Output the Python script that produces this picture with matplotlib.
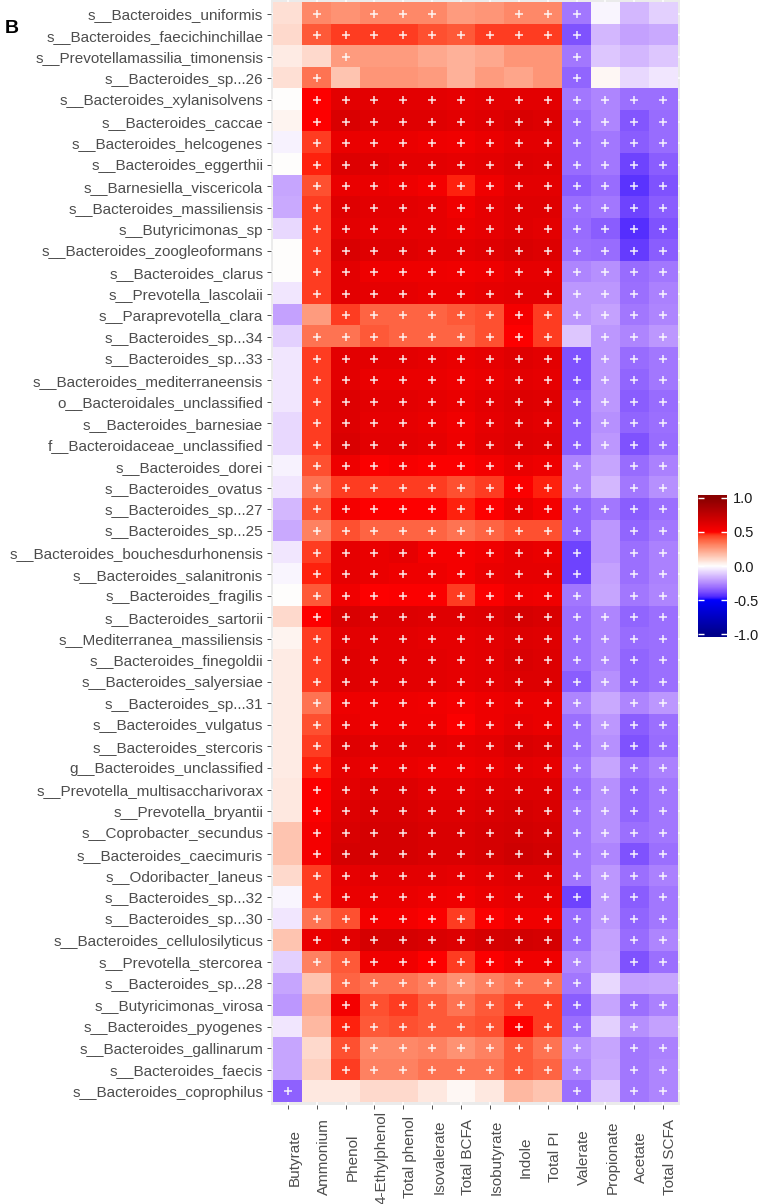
import numpy as np
import matplotlib
matplotlib.use('Agg')
import matplotlib.pyplot as plt
from matplotlib.colors import ListedColormap, to_rgb

plt.rcParams['font.family'] = ['Liberation Sans', 'DejaVu Sans']

taxa = ['s__Bacteroides_uniformis', 's__Bacteroides_faecichinchillae', 's__Prevotellamassilia_timonensis',
        's__Bacteroides_sp...26', 's__Bacteroides_xylanisolvens', 's__Bacteroides_caccae',
        's__Bacteroides_helcogenes', 's__Bacteroides_eggerthii', 's__Barnesiella_viscericola',
        's__Bacteroides_massiliensis', 's__Butyricimonas_sp', 's__Bacteroides_zoogleoformans',
        's__Bacteroides_clarus', 's__Prevotella_lascolaii', 's__Paraprevotella_clara',
        's__Bacteroides_sp...34', 's__Bacteroides_sp...33', 's__Bacteroides_mediterraneensis',
        'o__Bacteroidales_unclassified', 's__Bacteroides_barnesiae', 'f__Bacteroidaceae_unclassified',
        's__Bacteroides_dorei', 's__Bacteroides_ovatus', 's__Bacteroides_sp...27',
        's__Bacteroides_sp...25', 's__Bacteroides_bouchesdurhonensis', 's__Bacteroides_salanitronis',
        's__Bacteroides_fragilis', 's__Bacteroides_sartorii', 's__Mediterranea_massiliensis',
        's__Bacteroides_finegoldii', 's__Bacteroides_salyersiae', 's__Bacteroides_sp...31',
        's__Bacteroides_vulgatus', 's__Bacteroides_stercoris', 'g__Bacteroides_unclassified',
        's__Prevotella_multisaccharivorax', 's__Prevotella_bryantii', 's__Coprobacter_secundus',
        's__Bacteroides_caecimuris', 's__Odoribacter_laneus', 's__Bacteroides_sp...32',
        's__Bacteroides_sp...30', 's__Bacteroides_cellulosilyticus', 's__Prevotella_stercorea',
        's__Bacteroides_sp...28', 's__Butyricimonas_virosa', 's__Bacteroides_pyogenes',
        's__Bacteroides_gallinarum', 's__Bacteroides_faecis', 's__Bacteroides_coprophilus']

metabolites = ['Butyrate', 'Ammonium', 'Phenol', '4-Ethylphenol', 'Total phenol', 'Isovalerate',
               'Total BCFA', 'Isobutyrate', 'Indole', 'Total PI', 'Valerate', 'Propionate',
               'Acetate', 'Total SCFA']

# correlation per metabolite, rows in the order of taxa
butyrate = [0.08, 0.10, 0.05, 0.08, 0.00, 0.03, -0.03, 0.00, -0.19, -0.18,
            -0.08, 0.00, 0.00, -0.05, -0.20, -0.10, -0.05, -0.05, -0.05, -0.08,
            -0.08, -0.03, -0.05, -0.15, -0.18, -0.05, -0.02, 0.00, 0.10, 0.03,
            0.05, 0.05, 0.05, 0.05, 0.05, 0.05, 0.06, 0.06, 0.15, 0.15,
            0.10, -0.02, -0.05, 0.15, -0.10, -0.19, -0.22, -0.05, -0.19, -0.19,
            -0.34]
ammonium = [0.30, 0.40, 0.10, 0.35, 0.50, 0.50, 0.45, 0.48, 0.42, 0.45,
            0.45, 0.45, 0.45, 0.45, 0.25, 0.35, 0.45, 0.45, 0.45, 0.45,
            0.45, 0.42, 0.35, 0.42, 0.32, 0.45, 0.48, 0.40, 0.50, 0.45,
            0.45, 0.45, 0.35, 0.42, 0.45, 0.48, 0.51, 0.51, 0.54, 0.54,
            0.45, 0.45, 0.35, 0.58, 0.32, 0.15, 0.22, 0.18, 0.10, 0.12,
            0.06]
phenol = [0.28, 0.45, 0.25, 0.15, 0.61, 0.65, 0.58, 0.64, 0.58, 0.63,
          0.61, 0.65, 0.61, 0.61, 0.45, 0.35, 0.61, 0.61, 0.64, 0.64,
          0.65, 0.57, 0.45, 0.54, 0.42, 0.60, 0.60, 0.56, 0.65, 0.61,
          0.63, 0.63, 0.57, 0.58, 0.63, 0.60, 0.61, 0.64, 0.65, 0.67,
          0.60, 0.58, 0.42, 0.61, 0.40, 0.38, 0.54, 0.48, 0.42, 0.45,
          0.06]
ethylphenol = [0.30, 0.45, 0.25, 0.27, 0.61, 0.63, 0.58, 0.63, 0.58, 0.61,
               0.60, 0.63, 0.57, 0.60, 0.38, 0.40, 0.61, 0.58, 0.61, 0.60,
               0.61, 0.51, 0.45, 0.50, 0.38, 0.58, 0.58, 0.50, 0.64, 0.61,
               0.61, 0.61, 0.57, 0.57, 0.61, 0.58, 0.64, 0.65, 0.67, 0.67,
               0.61, 0.58, 0.54, 0.67, 0.56, 0.35, 0.42, 0.40, 0.30, 0.32,
               0.10]
total_phenol = [0.30, 0.45, 0.25, 0.27, 0.61, 0.63, 0.58, 0.61, 0.57, 0.61,
                0.60, 0.63, 0.57, 0.60, 0.38, 0.38, 0.61, 0.58, 0.61, 0.60,
                0.61, 0.53, 0.45, 0.50, 0.38, 0.60, 0.57, 0.51, 0.64, 0.61,
                0.61, 0.61, 0.57, 0.57, 0.61, 0.58, 0.64, 0.65, 0.67, 0.67,
                0.61, 0.58, 0.54, 0.67, 0.56, 0.35, 0.45, 0.42, 0.30, 0.32,
                0.10]
isovalerate = [0.30, 0.42, 0.22, 0.25, 0.61, 0.63, 0.57, 0.61, 0.54, 0.60,
               0.60, 0.61, 0.57, 0.58, 0.38, 0.38, 0.60, 0.58, 0.60, 0.58,
               0.60, 0.51, 0.45, 0.50, 0.38, 0.54, 0.57, 0.51, 0.63, 0.60,
               0.61, 0.61, 0.56, 0.57, 0.61, 0.57, 0.61, 0.64, 0.65, 0.65,
               0.61, 0.57, 0.51, 0.65, 0.50, 0.32, 0.40, 0.40, 0.32, 0.35,
               0.06]
total_bcfa = [0.25, 0.40, 0.20, 0.20, 0.60, 0.61, 0.56, 0.60, 0.48, 0.56,
              0.58, 0.61, 0.56, 0.58, 0.40, 0.38, 0.58, 0.57, 0.58, 0.56,
              0.57, 0.51, 0.42, 0.48, 0.35, 0.54, 0.54, 0.45, 0.63, 0.60,
              0.60, 0.60, 0.54, 0.51, 0.60, 0.57, 0.61, 0.64, 0.65, 0.65,
              0.60, 0.56, 0.45, 0.64, 0.45, 0.28, 0.35, 0.40, 0.28, 0.35,
              0.02]
isobutyrate = [0.27, 0.45, 0.22, 0.25, 0.61, 0.63, 0.58, 0.61, 0.56, 0.60,
               0.60, 0.63, 0.57, 0.60, 0.42, 0.42, 0.60, 0.58, 0.61, 0.60,
               0.61, 0.54, 0.45, 0.50, 0.38, 0.56, 0.58, 0.51, 0.64, 0.61,
               0.61, 0.61, 0.57, 0.57, 0.61, 0.58, 0.63, 0.65, 0.67, 0.67,
               0.61, 0.58, 0.51, 0.67, 0.51, 0.32, 0.40, 0.42, 0.32, 0.35,
               0.06]
indole = [0.30, 0.45, 0.27, 0.23, 0.61, 0.65, 0.61, 0.64, 0.61, 0.63,
          0.63, 0.65, 0.60, 0.61, 0.54, 0.50, 0.63, 0.61, 0.64, 0.63,
          0.64, 0.58, 0.51, 0.58, 0.42, 0.60, 0.60, 0.57, 0.67, 0.64,
          0.65, 0.64, 0.58, 0.60, 0.65, 0.61, 0.64, 0.67, 0.68, 0.70,
          0.63, 0.60, 0.56, 0.68, 0.56, 0.35, 0.45, 0.50, 0.40, 0.40,
          0.18]
total_pi = [0.30, 0.45, 0.27, 0.27, 0.61, 0.64, 0.61, 0.63, 0.61, 0.63,
            0.61, 0.64, 0.60, 0.61, 0.45, 0.45, 0.61, 0.60, 0.63, 0.61,
            0.63, 0.57, 0.48, 0.54, 0.42, 0.58, 0.60, 0.56, 0.65, 0.63,
            0.64, 0.64, 0.58, 0.58, 0.64, 0.60, 0.64, 0.65, 0.67, 0.68,
            0.63, 0.60, 0.56, 0.67, 0.56, 0.35, 0.45, 0.45, 0.35, 0.38,
            0.15]
valerate = [-0.29, -0.37, -0.29, -0.33, -0.29, -0.32, -0.32, -0.32, -0.35, -0.31,
            -0.32, -0.31, -0.26, -0.22, -0.22, -0.12, -0.37, -0.37, -0.35, -0.35,
            -0.35, -0.26, -0.26, -0.33, -0.33, -0.40, -0.40, -0.29, -0.31, -0.31,
            -0.31, -0.35, -0.26, -0.31, -0.31, -0.29, -0.31, -0.29, -0.29, -0.29,
            -0.29, -0.40, -0.32, -0.32, -0.26, -0.29, -0.35, -0.31, -0.24, -0.26,
            -0.31]
propionate = [-0.02, -0.15, -0.12, 0.02, -0.26, -0.26, -0.29, -0.29, -0.32, -0.29,
              -0.35, -0.32, -0.24, -0.22, -0.20, -0.22, -0.22, -0.22, -0.22, -0.24,
              -0.22, -0.19, -0.15, -0.29, -0.22, -0.22, -0.20, -0.19, -0.26, -0.26,
              -0.26, -0.24, -0.18, -0.22, -0.24, -0.19, -0.24, -0.24, -0.24, -0.26,
              -0.22, -0.22, -0.22, -0.20, -0.19, -0.08, -0.19, -0.10, -0.19, -0.18,
              -0.12]
acetate = [-0.15, -0.20, -0.15, -0.08, -0.31, -0.36, -0.35, -0.40, -0.43, -0.40,
           -0.44, -0.42, -0.32, -0.31, -0.29, -0.26, -0.32, -0.33, -0.35, -0.33,
           -0.37, -0.32, -0.29, -0.35, -0.33, -0.31, -0.31, -0.29, -0.33, -0.32,
           -0.33, -0.33, -0.26, -0.35, -0.37, -0.31, -0.33, -0.33, -0.31, -0.37,
           -0.31, -0.35, -0.33, -0.32, -0.37, -0.20, -0.31, -0.24, -0.29, -0.29,
           -0.29]
total_scfa = [-0.10, -0.18, -0.12, -0.05, -0.31, -0.32, -0.32, -0.35, -0.37, -0.35,
              -0.37, -0.35, -0.29, -0.27, -0.26, -0.22, -0.29, -0.29, -0.32, -0.31,
              -0.32, -0.27, -0.24, -0.31, -0.29, -0.27, -0.27, -0.26, -0.31, -0.31,
              -0.31, -0.31, -0.22, -0.31, -0.32, -0.27, -0.29, -0.29, -0.29, -0.31,
              -0.27, -0.29, -0.29, -0.26, -0.31, -0.19, -0.27, -0.20, -0.27, -0.26,
              -0.26]

# significance flags (1 = "+"), one string per taxon, columns in metabolite order
signif = ['01011100111000', '01111111111000', '00100000001000', '01000000001000',
          '01111111111111', '01111111111111', '01111111111111', '01111111111111',
          '01111111111111', '01111111111111', '01111111111111', '01111111111111',
          '01111111111111', '01111111111111', '00111111111111', '01111111110111',
          '01111111111111', '01111111111111', '01111111111111', '01111111111111',
          '01111111111111', '01111111111011', '01111111111011', '01111111111111',
          '01111111111011', '01111111111011', '01111111111011', '01111111111011',
          '01111111111111', '01111111111111', '01111111111111', '01111111111111',
          '01111111111011', '01111111111111', '01111111111111', '01111111111011',
          '01111111111111', '01111111111111', '01111111111111', '01111111111111',
          '01111111111111', '01111111111111', '01111111111111', '01111111111011',
          '01111111111011', '00111111111000', '00111111111011', '00111111111010',
          '00111111111011', '00111111111011', '10000000001011']

vals = np.column_stack([butyrate, ammonium, phenol, ethylphenol, total_phenol, isovalerate,
                        total_bcfa, isobutyrate, indole, total_pi, valerate, propionate,
                        acetate, total_scfa])
sig = np.array([[ch == '1' for ch in s] for s in signif])


# ggplot-like gradient: colours interpolated in Lab space
def to_lab(rgb):
    c = np.asarray(rgb, float)
    lin = np.where(c <= 0.04045, c / 12.92, ((c + 0.055) / 1.055) ** 2.4)
    M = np.array([[0.4124564, 0.3575761, 0.1804375],
                  [0.2126729, 0.7151522, 0.0721750],
                  [0.0193339, 0.1191920, 0.9503041]])
    xyz = lin @ M.T / np.array([0.95047, 1.0, 1.08883])
    d = 6 / 29
    f = np.where(xyz > d ** 3, np.cbrt(xyz), xyz / (3 * d * d) + 4 / 29)
    return np.stack([116 * f[..., 1] - 16, 500 * (f[..., 0] - f[..., 1]),
                     200 * (f[..., 1] - f[..., 2])], -1)


def from_lab(lab):
    L, a, b = lab[..., 0], lab[..., 1], lab[..., 2]
    fy = (L + 16) / 116
    f = np.stack([fy + a / 500, fy, fy - b / 200], -1)
    d = 6 / 29
    xyz = np.where(f > d, f ** 3, 3 * d * d * (f - 4 / 29)) * np.array([0.95047, 1.0, 1.08883])
    Mi = np.array([[3.2404542, -1.5371385, -0.4985314],
                   [-0.9692660, 1.8760108, 0.0415560],
                   [0.0556434, -0.2040259, 1.0572252]])
    lin = np.clip(xyz @ Mi.T, 0, 1)
    c = np.where(lin <= 0.0031308, 12.92 * lin, 1.055 * lin ** (1 / 2.4) - 0.055)
    return np.clip(c, 0, 1)


anchors = [to_rgb(c) for c in ['darkblue', 'blue', 'white', 'red', 'darkred']]
labs = to_lab(np.array(anchors))
pos = np.linspace(0, 1, 5)
t = np.linspace(0, 1, 256)
lab_t = np.stack([np.interp(t, pos, labs[:, k]) for k in range(3)], -1)
cmap = ListedColormap(from_lab(lab_t))

W, H = 761, 1204
fig = plt.figure(figsize=(W / 100, H / 100), dpi=100)
ax = fig.add_axes([270.6 / W, 1 - 1104.6 / H, 409.8 / W, 1104.2 / H])
ax.set_facecolor('#EBEBEB')
for s in ax.spines.values():
    s.set_visible(False)

nr, nc = vals.shape
ax.imshow(vals, cmap=cmap, vmin=-1, vmax=1, aspect='auto', interpolation='nearest', zorder=1)
rr, cc = np.nonzero(sig)
ax.scatter(cc, rr, marker='+', s=32, c='white', linewidths=1.1, alpha=0.9, zorder=3)

ax.set_xlim(-0.6, nc - 0.4)
ax.set_ylim(nr - 0.38, -0.62)
ax.set_xticks(range(nc))
ax.set_yticks(range(nr))
ax.set_xticklabels(metabolites, rotation=90, ha='left', va='center')
ax.set_yticklabels(taxa)
ax.set_axisbelow(True)
ax.grid(color='white', lw=1.1, zorder=0.5)
ax.tick_params(axis='both', colors='#333333', length=2.75, width=0.6, labelsize=11,
               labelcolor='#4D4D4D')
ax.tick_params(axis='y', pad=2.5)
ax.tick_params(axis='x', pad=35)

# colourbar
cax = fig.add_axes([698 / W, 1 - 637 / H, 29 / W, 142 / H])
lim = 1.044
grad = np.linspace(lim, -lim, 300).reshape(-1, 1)
cax.imshow(np.clip(grad, -1, 1), cmap=cmap, vmin=-1, vmax=1, aspect='auto',
           extent=[0, 1, -lim, lim], interpolation='bilinear')
breaks = [1.0, 0.5, 0.0, -0.5, -1.0]
cax.hlines(breaks, 0, 0.2, colors='white', lw=1.0)
cax.hlines(breaks, 0.8, 1, colors='white', lw=1.0)
cax.set_xlim(0, 1)
cax.set_ylim(-lim, lim)
cax.set_xticks([])
cax.yaxis.tick_right()
cax.set_yticks(breaks)
cax.set_yticklabels([f'{b:.1f}' for b in breaks])
cax.tick_params(axis='y', length=0, pad=4.3, labelsize=10.5, labelcolor='#1A1A1A')
for s in cax.spines.values():
    s.set_visible(False)

fig.text(5 / W, 1 - 33 / H, 'B', fontsize=14, fontweight='bold', va='baseline', ha='left')

fig.savefig('out.png', dpi=100)
